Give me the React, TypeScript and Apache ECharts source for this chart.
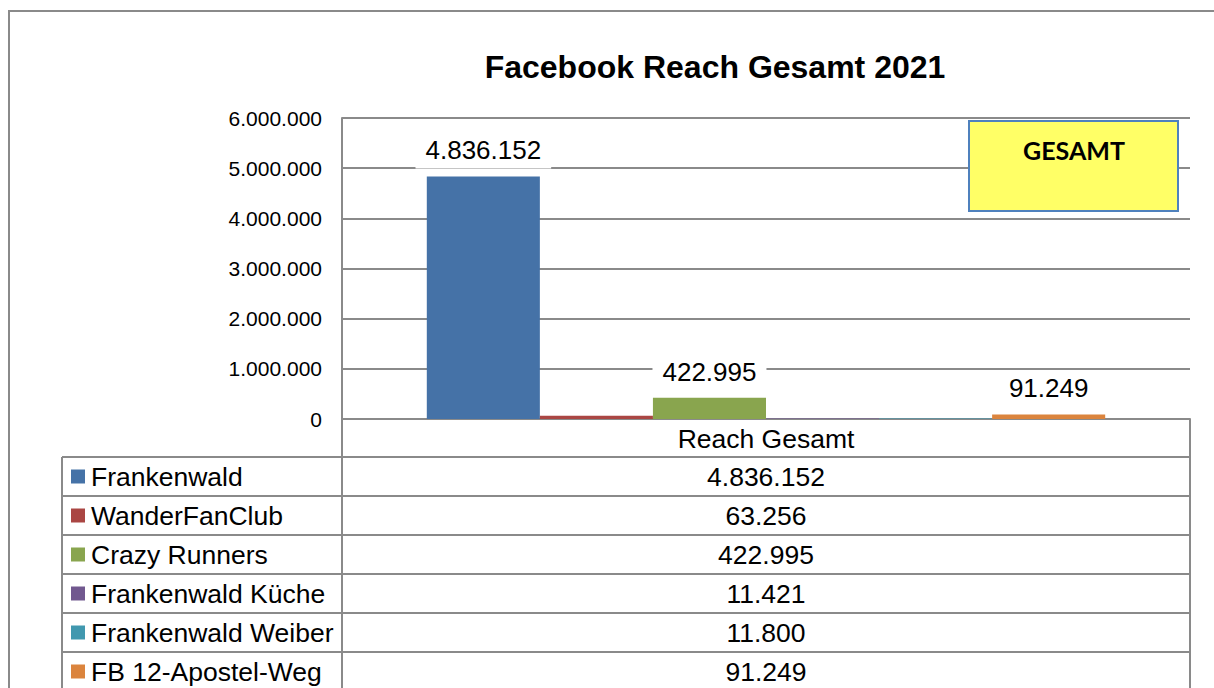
import React, { useEffect, useRef } from "react";
import * as echarts from "echarts";

const title = "Facebook Reach Gesamt 2021";
const categories = ["Reach Gesamt"];
const seriesNames = [
  "Frankenwald",
  "WanderFanClub",
  "Crazy Runners",
  "Frankenwald Küche",
  "Frankenwald Weiber",
  "FB 12-Apostel-Weg",
];
const values = [4836152, 63256, 422995, 11421, 11800, 91249];
const colors = ["#4572A7", "#AA4643", "#89A54E", "#71588F", "#4198AF", "#DB843D"];
const labeledSeries = [true, false, true, false, false, true];
const yMin = 0;
const yMax = 6000000;
const yInterval = 1000000;
const boxLabel = "GESAMT";

const fmt = (n: number) => String(Math.round(n)).replace(/\B(?=(\d{3})+(?!\d))/g, ".");

const FONT = "'Liberation Sans', Arial, sans-serif";
const LINE = "#8a8a8a";
const TXT = 26.5;

export default function App() {
  const ref = useRef<HTMLDivElement>(null);
  useEffect(() => {
    if (!ref.current) return;
    const chart = echarts.init(ref.current, null, { renderer: "svg" });

    const gridLeft = 342;
    const gridRight = 1190;
    const axisY = 419;
    const tableTop = 457;
    const rowH = 39;
    const labelColL = 62;

    const graphic: any[] = [];
    graphic.push({
      type: "rect",
      shape: { x: 9, y: 11, width: 1230, height: 700 },
      style: { fill: "none", stroke: LINE, lineWidth: 2 },
      z: 1,
    });
    graphic.push({
      type: "text",
      x: 715,
      y: 67,
      style: {
        text: title,
        font: `bold 32px ${FONT}`,
        fill: "#000",
        align: "center",
        verticalAlign: "middle",
      },
    });
    graphic.push({
      type: "rect",
      shape: { x: 969, y: 121, width: 209, height: 90 },
      style: { fill: "#FFFF66", stroke: "#4F81BD", lineWidth: 2 },
      z: 10,
    });
    graphic.push({
      type: "text",
      x: 1074,
      y: 150,
      style: {
        text: boxLabel,
        font: "bold 25px Lato, 'Open Sans', sans-serif",
        fill: "#000",
        align: "center",
        verticalAlign: "middle",
      },
      z: 11,
    });
    const nRows = seriesNames.length;
    const tableBottom = tableTop + rowH * nRows + 10;
    for (let i = 0; i <= nRows; i++) {
      const y = tableTop + i * rowH;
      graphic.push({
        type: "line",
        shape: { x1: labelColL, y1: y, x2: gridRight, y2: y },
        style: { stroke: LINE, lineWidth: 2 },
        z: 5,
      });
    }
    graphic.push({
      type: "line",
      shape: { x1: labelColL, y1: tableTop, x2: labelColL, y2: tableBottom },
      style: { stroke: LINE, lineWidth: 2 },
      z: 5,
    });
    graphic.push({
      type: "line",
      shape: { x1: gridLeft, y1: axisY, x2: gridLeft, y2: tableBottom },
      style: { stroke: LINE, lineWidth: 2 },
      z: 5,
    });
    graphic.push({
      type: "line",
      shape: { x1: gridRight, y1: axisY, x2: gridRight, y2: tableBottom },
      style: { stroke: LINE, lineWidth: 2 },
      z: 5,
    });
    seriesNames.forEach((name, i) => {
      const cy = tableTop + i * rowH + rowH / 2;
      graphic.push({
        type: "rect",
        shape: { x: 71, y: cy - 7, width: 14, height: 14 },
        style: { fill: colors[i] },
        z: 6,
      });
      graphic.push({
        type: "text",
        x: 91,
        y: cy,
        style: {
          text: name,
          font: `${TXT}px ${FONT}`,
          fill: "#000",
          align: "left",
          verticalAlign: "middle",
        },
        z: 6,
      });
      graphic.push({
        type: "text",
        x: (gridLeft + gridRight) / 2,
        y: cy,
        style: {
          text: fmt(values[i]),
          font: `${TXT}px ${FONT}`,
          fill: "#000",
          align: "center",
          verticalAlign: "middle",
        },
        z: 6,
      });
    });

    chart.setOption({
      animation: false,
      grid: {
        left: gridLeft,
        right: 1214 - gridRight,
        top: 118,
        bottom: 688 - axisY,
        containLabel: false,
      },
      xAxis: {
        type: "category",
        data: categories,
        axisLine: { show: true, lineStyle: { color: LINE, width: 2 } },
        axisTick: { show: false },
        axisLabel: {
          show: true,
          color: "#000",
          fontSize: TXT,
          fontFamily: FONT,
          margin: 6,
        },
      },
      yAxis: {
        type: "value",
        min: yMin,
        max: yMax,
        interval: yInterval,
        axisLine: { show: true, lineStyle: { color: LINE, width: 2 } },
        axisTick: { show: false },
        splitLine: { show: true, lineStyle: { color: LINE, width: 2 } },
        axisLabel: {
          color: "#000",
          fontSize: 21,
          fontFamily: FONT,
          margin: 20,
          formatter: (v: number) => fmt(v),
        },
      },
      graphic,
      series: seriesNames.map((name, i) => ({
        name,
        type: "bar",
        data: [values[i]],
        barGap: "0%",
        barCategoryGap: "20%",
        itemStyle: { color: colors[i] },
        label: {
          show: labeledSeries[i],
          position: "top",
          distance: 8,
          formatter: (p: any) => fmt(p.value),
          color: "#000",
          fontSize: 26,
          fontFamily: FONT,
          backgroundColor: "#fff",
          padding: [5, 10],
        },
      })),
    });
    return () => chart.dispose();
  }, []);
  return (
    <div
      ref={ref}
      style={{ position: "fixed", left: 0, top: 0, width: 1214, height: 688, background: "#fff" }}
    />
  );
}
